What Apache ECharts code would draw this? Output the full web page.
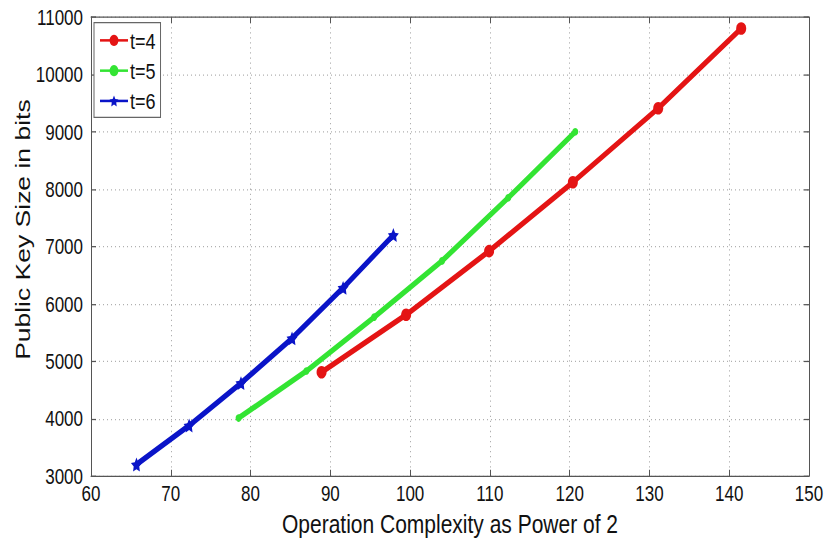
<!DOCTYPE html>
<html>
<head>
<meta charset="utf-8">
<script src="https://cdn.jsdelivr.net/npm/echarts@6/dist/echarts.min.js"></script>
<style>
  html, body { margin: 0; padding: 0; background: #fff; }
  #wrap { width: 829px; height: 540px; overflow: hidden; }
  /* the original figure was stretched upright, so draw at 829x428 and stretch to 540 */
  #chart { width: 829px; height: 428px; transform: scaleY(1.2617); transform-origin: 0 0; }
</style>
</head>
<body>
<div id="wrap"><div id="chart"></div></div>
<script>
// series: [complexity exponent, key size in bits]
const t4 = [[88.9, 4810], [99.5, 5810], [109.9, 6920], [120.4, 8120], [131.1, 9410], [141.5, 10800]]
const t5 = [[78.5, 4010], [87.0, 4830], [95.5, 5770], [104.0, 6750], [112.3, 7850], [120.7, 9000]]
const t6 = [[65.7, 3200], [72.3, 3880], [78.8, 4620], [85.2, 5400], [91.6, 6280], [97.9, 7200]]
const seriesNames = ['t=4', 't=5', 't=6']
const xTitle = 'Operation Complexity as Power of 2'
const yTitle = 'Public Key Size in bits'

const font = '"Liberation Sans", Arial, sans-serif'
const gridLine = { show: true, lineStyle: { color: '#b0b0b0', type: [1, 3], width: 1 } }
const frameLine = { show: true, lineStyle: { color: '#555', width: 1 } }
const tick = { inside: true, length: 5, lineStyle: { color: '#555' } }

const myChart = echarts.init(document.getElementById('chart'), null, { renderer: 'svg' })
myChart.setOption({
    animation: false,
    backgroundColor: '#fff',
    grid: { left: 91, right: 20, top: 13.5, bottom: 50.7, outerBoundsMode: 'none' },
    legend: {
        orient: 'vertical', left: 94, top: 18,
        backgroundColor: '#fff', borderColor: '#666', borderWidth: 1, borderRadius: 0,
        padding: [5, 5, 4, 5], itemGap: 6, itemWidth: 28, itemHeight: 11,
        textStyle: { fontFamily: font, fontSize: 18, lineHeight: 18, color: '#111', padding: [0, 0, 0, -3] },
        data: seriesNames
    },
    graphic: [{
        type: 'text', x: 23, y: 182, rotation: Math.PI / 2,
        style: { text: yTitle, fontFamily: font, fontSize: 21, fill: '#111',
                 align: 'center', verticalAlign: 'middle', textAlign: 'center', textVerticalAlign: 'middle' }
    }],
    xAxis: [{
        type: 'value', min: 60, max: 150, interval: 10,
        name: xTitle, nameLocation: 'middle', nameGap: 22,
        nameTextStyle: { fontFamily: font, fontSize: 21, color: '#111' },
        axisLine: frameLine, axisTick: tick,
        axisLabel: { fontFamily: font, fontSize: 17, color: '#111', margin: 5 },
        splitLine: gridLine
    }, {
        type: 'value', min: 60, max: 150, interval: 10, position: 'top',
        axisLine: frameLine, axisTick: tick,
        axisLabel: { show: false }, splitLine: { show: false }
    }],
    yAxis: [{
        type: 'value', min: 3000, max: 11000, interval: 1000,
        axisLine: frameLine, axisTick: tick,
        axisLabel: { fontFamily: font, fontSize: 17, color: '#111', margin: 8, formatter: v => String(v) },
        splitLine: gridLine
    }, {
        type: 'value', min: 3000, max: 11000, interval: 1000, position: 'right',
        axisLine: frameLine, axisTick: tick,
        axisLabel: { show: false }, splitLine: { show: false }
    }],
    series: [{
        name: seriesNames[0], type: 'line', data: t4,
        symbol: 'circle', symbolSize: 10,
        lineStyle: { color: '#e41414', width: 4.5 }, itemStyle: { color: '#e41414' }
    }, {
        name: seriesNames[1], type: 'line', data: t5,
        symbol: 'circle', symbolSize: 6,
        lineStyle: { color: '#33e433', width: 4.5 }, itemStyle: { color: '#33e433' }
    }, {
        name: seriesNames[2], type: 'line', data: t6,
        symbol: 'path://M0,-10 L2.9,-4 L9.5,-3.1 L4.8,1.5 L5.9,8.1 L0,5 L-5.9,8.1 L-4.8,1.5 L-9.5,-3.1 L-2.9,-4 Z', symbolSize: 11,
        lineStyle: { color: '#0a14c8', width: 4.5 }, itemStyle: { color: '#0a14c8' }
    }]
})
</script>
</body>
</html>
